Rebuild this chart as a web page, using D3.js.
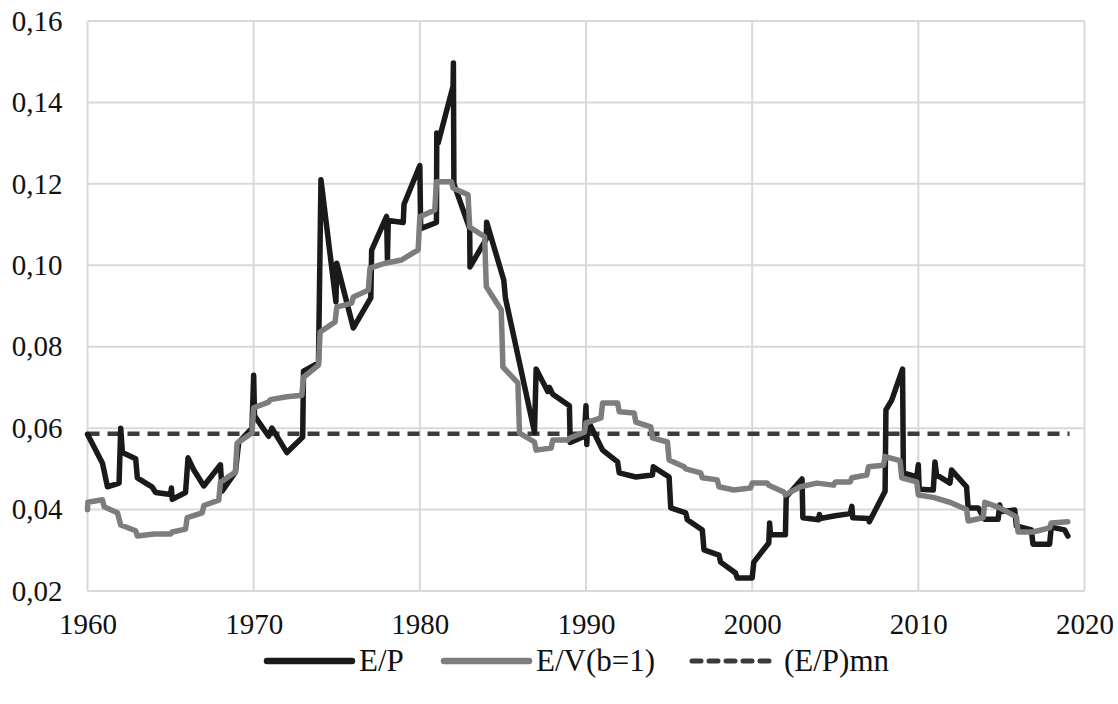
<!DOCTYPE html>
<html>
<head>
<meta charset="utf-8">
<script src="https://cdn.jsdelivr.net/npm/d3@7"></script>
<style>
  html, body { margin: 0; padding: 0; background: #fff; }
  svg { display: block; }
  text { font-family: "Liberation Serif", "Times New Roman", serif; fill: #111; }
</style>
</head>
<body>
<div id="chart"></div>
<script>
// E/P series (black) as [year, value]
var epYears = [1960.0,1960.9,1961.2,1961.9,1962.0,1962.1,1962.9,1963.0,1963.9,1964.1,1965.0,1965.05,1965.1,1965.9,1966.05,1966.4,
  1967.0,1968.0,1968.1,1968.9,1969.1,1969.9,1970.0,1970.05,1970.9,1971.1,1972.0,1972.95,1973.0,1973.9,1974.05,
  1974.95,1975.0,1976.0,1977.05,1977.1,1978.0,1978.05,1978.1,1979.0,1979.05,1980.0,1980.05,1981.0,1981.02,1981.1,
  1982.0,1982.02,1982.05,1983.0,1983.02,1984.0,1984.02,1985.05,1985.15,1986.0,1986.9,1987.0,1987.7,1987.8,1988.0,
  1989.0,1989.05,1989.9,1990.0,1990.05,1990.1,1991.0,1991.9,1992.0,1993.0,1994.0,1994.05,1995.0,1995.1,1996.0,
  1996.1,1997.0,1997.1,1998.0,1998.1,1999.0,1999.1,2000.0,2000.1,2001.0,2001.05,2001.1,2002.0,2002.05,2003.0,
  2003.05,2004.0,2004.05,2004.1,2005.0,2005.9,2006.0,2006.05,2007.0,2007.05,2008.0,2008.05,2008.4,2009.05,2009.1,
  2009.9,2010.0,2010.05,2010.9,2011.0,2011.1,2011.9,2012.0,2012.9,2013.0,2013.6,2014.0,2014.8,2014.9,2015.0,
  2015.8,2015.9,2016.8,2016.9,2017.9,2018.0,2018.8,2019.0];
var epValues = [0.0585,0.0514,0.0456,0.0465,0.0600,0.0540,0.0525,0.0478,0.0455,0.0442,0.0437,0.0453,0.0425,0.0442,0.0527,0.0497,
  0.0458,0.0510,0.0445,0.0492,0.0565,0.0600,0.0730,0.0630,0.0580,0.0600,0.0540,0.0578,0.0740,0.0760,0.1210,
  0.0910,0.1005,0.0846,0.0920,0.1037,0.1120,0.1015,0.1110,0.1105,0.1150,0.1245,0.1090,0.1105,0.1325,0.1300,
  0.1440,0.1497,0.1200,0.1090,0.0996,0.1065,0.1106,0.0964,0.0920,0.0760,0.0590,0.0745,0.0690,0.0700,0.0683,
  0.0655,0.0565,0.0580,0.0655,0.0560,0.0620,0.0546,0.0517,0.0490,0.0480,0.0485,0.0505,0.0480,0.0404,0.0392,
  0.0375,0.0350,0.0301,0.0288,0.0271,0.0244,0.0232,0.0232,0.0271,0.0318,0.0367,0.0338,0.0338,0.0431,0.0475,
  0.0380,0.0375,0.0388,0.0378,0.0385,0.0390,0.0408,0.0380,0.0378,0.0370,0.0445,0.0645,0.0669,0.0745,0.0490,
  0.0480,0.0510,0.0450,0.0448,0.0517,0.0485,0.0465,0.0497,0.0456,0.0404,0.0404,0.0376,0.0376,0.0411,0.0395,
  0.0399,0.0360,0.0350,0.0315,0.0315,0.0357,0.0350,0.0335];

// E/V(b=1) series (grey)
var evYears = [1960.0,1960.02,1960.9,1961.0,1961.8,1962.0,1962.9,1963.0,1964.0,1965.0,1965.1,1965.9,1966.0,1966.9,1967.0,1967.9,
  1968.0,1968.9,1969.0,1969.9,1970.0,1970.9,1971.0,1972.0,1972.9,1973.0,1973.9,1974.0,1974.9,1975.0,1975.9,1976.0,
  1976.9,1977.0,1977.9,1978.9,1979.9,1980.0,1980.9,1981.0,1981.9,1982.0,1982.9,1983.0,1983.9,1984.0,1984.9,1985.0,
  1985.9,1986.0,1986.9,1987.0,1987.9,1988.0,1988.9,1989.0,1989.9,1990.0,1990.9,1991.0,1991.9,1992.0,1992.9,1993.0,
  1993.9,1994.0,1994.9,1995.0,1995.9,1996.0,1996.9,1997.0,1997.9,1998.0,1998.9,1999.9,2000.0,2000.9,2001.0,2001.9,
  2002.0,2002.9,2003.9,2004.9,2005.0,2005.9,2006.0,2006.9,2007.0,2007.9,2008.0,2008.9,2009.0,2009.9,2010.0,2010.9,
  2011.9,2012.9,2013.0,2013.9,2014.0,2014.9,2015.9,2016.0,2016.9,2017.9,2018.0,2019.0];
var evValues = [0.0400,0.0418,0.0424,0.0407,0.0392,0.0362,0.0348,0.0335,0.0340,0.0340,0.0345,0.0352,0.0380,0.0392,0.0410,0.0423,
  0.0467,0.0492,0.0563,0.0588,0.0650,0.0664,0.0670,0.0677,0.0681,0.0725,0.0755,0.0836,0.0861,0.0897,0.0907,0.0922,
  0.0939,0.0993,0.1005,0.1013,0.1038,0.1119,0.1136,0.1205,0.1205,0.1190,0.1173,0.1094,0.1070,0.0947,0.0890,0.0750,
  0.0711,0.0588,0.0566,0.0546,0.0551,0.0571,0.0571,0.0575,0.0590,0.0613,0.0625,0.0662,0.0662,0.0640,0.0637,0.0615,
  0.0603,0.0576,0.0566,0.0522,0.0505,0.0500,0.0490,0.0478,0.0473,0.0456,0.0448,0.0453,0.0465,0.0465,0.0460,0.0443,
  0.0436,0.0456,0.0465,0.0460,0.0468,0.0468,0.0478,0.0485,0.0505,0.0509,0.0530,0.0520,0.0478,0.0468,0.0436,0.0430,
  0.0418,0.0400,0.0372,0.0380,0.0418,0.0404,0.0382,0.0345,0.0345,0.0355,0.0367,0.0370];

// (E/P)mn - mean level
var meanYears = [1960, 2019.1];
var meanValue = 0.0586;

var xTicks = [1960, 1970, 1980, 1990, 2000, 2010, 2020];
var yTicks = [0.02, 0.04, 0.06, 0.08, 0.10, 0.12, 0.14, 0.16];
var legendNames = ["E/P", "E/V(b=1)", "(E/P)mn"];

var W = 1118, H = 704;
var svg = d3.select("#chart").append("svg").attr("width", W).attr("height", H);

var x = d3.scaleLinear().domain([1960, 2020]).range([87.5, 1084.5]);
var y = d3.scaleLinear().domain([0.02, 0.16]).range([591, 21]);

var fmt = function (v) { return d3.format(".2f")(v).replace(".", ","); };

// grid
svg.append("g").selectAll("line.h").data(yTicks).enter().append("line")
  .attr("x1", x(1960)).attr("x2", x(2020))
  .attr("y1", function (d) { return y(d); }).attr("y2", function (d) { return y(d); })
  .attr("stroke", "#d9d9d9").attr("stroke-width", 2);
svg.append("g").selectAll("line.v").data(xTicks).enter().append("line")
  .attr("y1", y(0.02)).attr("y2", y(0.16))
  .attr("x1", function (d) { return x(d); }).attr("x2", function (d) { return x(d); })
  .attr("stroke", "#d9d9d9").attr("stroke-width", 2);

// axis labels
var yAxis = d3.axisLeft(y).tickValues(yTicks).tickFormat(fmt).tickSize(0).tickPadding(25);
var gy = svg.append("g").attr("transform", "translate(" + x(1960) + ",0)").call(yAxis);
gy.select(".domain").remove();
gy.selectAll("text").style("font-family", '"Liberation Serif", serif').style("font-size", "29px").attr("fill", "#111");

var xAxis = d3.axisBottom(x).tickValues(xTicks).tickFormat(d3.format("d")).tickSize(0).tickPadding(22);
var gx = svg.append("g").attr("transform", "translate(0," + y(0.02) + ")").call(xAxis);
gx.select(".domain").remove();
gx.selectAll("text").style("font-family", '"Liberation Serif", serif').style("font-size", "29px").attr("fill", "#111");

var line = d3.line().x(function (d) { return x(d[0]); }).y(function (d) { return y(d[1]); });

// mean dashed line
svg.append("path")
  .datum(meanYears.map(function (t) { return [t, meanValue]; }))
  .attr("d", line).attr("fill", "none")
  .attr("stroke", "#3b3b3b").attr("stroke-width", 4.5)
  .attr("stroke-dasharray", "12,8").attr("stroke-linecap", "butt");

var epData = epYears.map(function (t, i) { return [t, epValues[i]]; });
var evData = evYears.map(function (t, i) { return [t, evValues[i]]; });

svg.append("path").datum(epData).attr("d", line).attr("fill", "none")
  .attr("stroke", "#1a1a1a").attr("stroke-width", 5.5)
  .attr("stroke-linejoin", "round").attr("stroke-linecap", "round");

svg.append("path").datum(evData).attr("d", line).attr("fill", "none")
  .attr("stroke", "#7f7c7c").attr("stroke-width", 5.5)
  .attr("stroke-linejoin", "round").attr("stroke-linecap", "round");

// legend
var legendX = [267, 444, 692];
var legendStyle = [
  { stroke: "#1a1a1a", dash: null, w: 6.5 },
  { stroke: "#7f7c7c", dash: null, w: 6.5 },
  { stroke: "#3b3b3b", dash: "9,8", w: 5 }
];
var ly = 661;
var lg = svg.append("g").selectAll("g").data(legendNames).enter().append("g")
  .attr("transform", function (d, i) { return "translate(" + legendX[i] + "," + ly + ")"; });
lg.append("line").attr("x1", 0).attr("x2", 85).attr("y1", 0).attr("y2", 0)
  .attr("stroke", function (d, i) { return legendStyle[i].stroke; })
  .attr("stroke-width", function (d, i) { return legendStyle[i].w; })
  .attr("stroke-linecap", "round")
  .attr("stroke-dasharray", function (d, i) { return legendStyle[i].dash; });
lg.append("text").attr("x", 92).attr("y", 10)
  .style("font-size", "31px").text(function (d) { return d; });
</script>
</body>
</html>
